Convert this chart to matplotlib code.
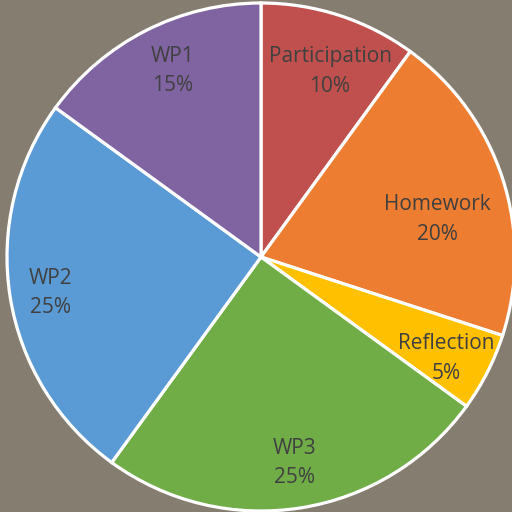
import numpy as np
import matplotlib.pyplot as plt

categories = ['Participation', 'Homework', 'Reflection', 'WP3', 'WP2', 'WP1']
shares = [10, 20, 5, 25, 25, 15]
colors = ['#c0504d', '#ed7d31', '#ffc000', '#70ad47', '#5b9bd5', '#8064a2']
# label placement: fraction of radius, angle offset from wedge middle (deg)
label_dist = [0.787, 0.710, 0.827, 0.814, 0.841, 0.817]
label_turn = [-2.2, -5.35, -1.3, 0.2, 0.15, -1.9]

fig = plt.figure(figsize=(5.12, 5.12), dpi=100)
fig.patch.set_facecolor('#857d70')
ax = fig.add_axes([0, 0, 1, 1])

cx, cy, rad = 261, 512 - 257, 254
wedges, _ = ax.pie(shares, colors=colors, startangle=90, counterclock=False,
                   center=(cx, cy), radius=rad, frame=True,
                   wedgeprops=dict(edgecolor='white', linewidth=2.3))
ax.set_xlim(0, 512)
ax.set_ylim(0, 512)
ax.set_aspect('equal')
ax.axis('off')

for w, name, v, d, t in zip(wedges, categories, shares, label_dist, label_turn):
    mid = np.deg2rad((w.theta1 + w.theta2) / 2 + t)
    x = cx + d * rad * np.cos(mid)
    y = cy + d * rad * np.sin(mid) - 2
    ax.text(x, y, f'{name}\n{v}%', ha='center', va='center', fontsize=15,
            family='Open Sans', color='#404040', linespacing=1.55)

fig.savefig('out.png', dpi=100, facecolor=fig.get_facecolor())
